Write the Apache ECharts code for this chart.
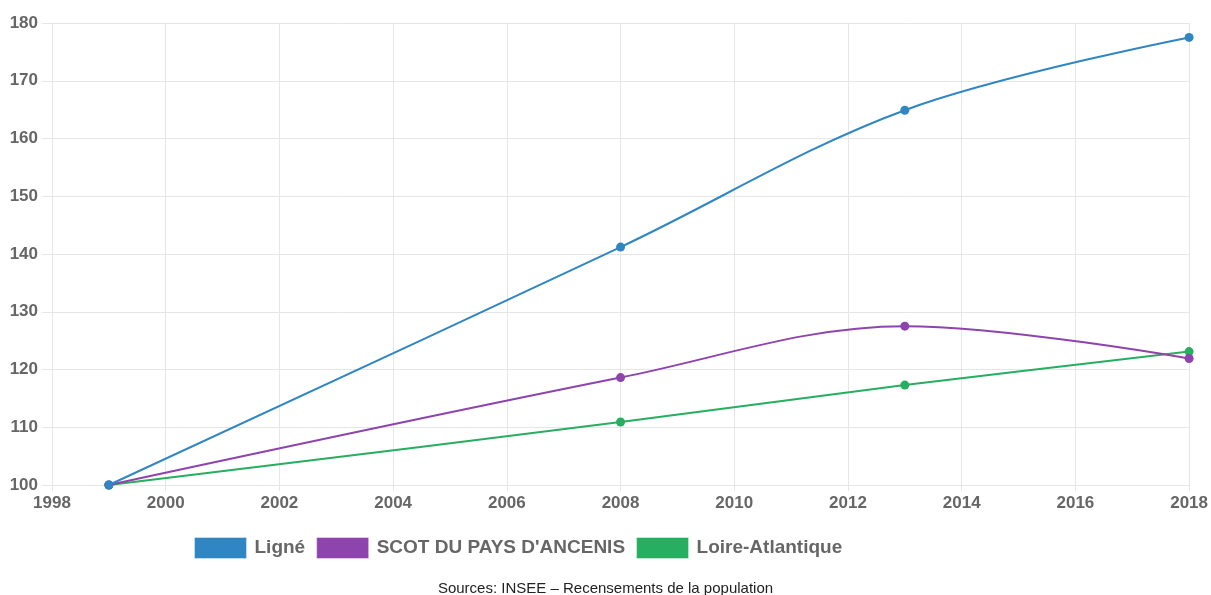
<!DOCTYPE html>
<html>
<head>
<meta charset="utf-8">
<script src="https://cdn.jsdelivr.net/npm/echarts@6/dist/echarts.min.js"></script>
<style>
html,body{margin:0;padding:0;background:#fff;}
#chart{width:1211px;height:595px;}
</style>
</head>
<body>
<div id="chart"></div>
<script>
const years = [1999, 2008, 2013, 2018];
const seriesNames = ["Ligné", "SCOT DU PAYS D'ANCENIS", "Loire-Atlantique"];
const ligne = [100, 141.2, 164.9, 177.5];
const scot = [100, 118.6, 127.5, 121.9];
const loire = [100, 110.9, 117.3, 123.1];
const colors = ["#2f86c3", "#8e44ad", "#27ae60"];
const sourceText = "Sources: INSEE – Recensements de la population";

const values = [ligne, scot, loire];
const chart = echarts.init(document.getElementById('chart'));
const gridColor = '#e6e6e6';
const font = '"Liberation Sans", Arial, sans-serif';

chart.setOption({
  animation: false,
  backgroundColor: '#fff',
  grid: {left: 52, right: 20, top: 23, bottom: 110, containLabel: false},
  legend: {
    left: 189, top: 532,
    itemWidth: 52, itemHeight: 21, itemGap: 11,
    icon: 'rect',
    data: seriesNames,
    itemStyle: {borderColor: 'rgba(255,255,255,0.4)', borderWidth: 1},
    textStyle: {fontFamily: font, fontWeight: 'bold', fontSize: 19, color: '#666', padding: [0,0,0,3]}
  },
  xAxis: {
    type: 'value', min: 1998, max: 2018, interval: 2,
    axisLine: {show: true, lineStyle: {color: gridColor}},
    axisTick: {show: true, length: 6, lineStyle: {color: gridColor}},
    splitLine: {show: true, lineStyle: {color: gridColor}},
    axisLabel: {margin: 10, color: '#666', fontFamily: font, fontWeight: 'bold', fontSize: 17, formatter: v => String(v)}
  },
  yAxis: {
    type: 'value', min: 100, max: 180, interval: 10,
    axisLine: {show: true, lineStyle: {color: gridColor}},
    axisTick: {show: true, length: 10, lineStyle: {color: gridColor}},
    splitLine: {show: true, lineStyle: {color: gridColor}},
    axisLabel: {margin: 14, color: '#666', fontFamily: font, fontWeight: 'bold', fontSize: 17}
  },
  series: seriesNames.map((n, i) => ({
    name: n, type: 'line', smooth: 0.35,
    data: years.map((y, j) => [y, values[i][j]]),
    symbol: 'circle', symbolSize: 9,
    lineStyle: {width: 2, color: colors[i]},
    itemStyle: {color: colors[i]},
    z: 3 - i
  })),
  graphic: [{
    type: 'text', left: 'center', top: 581,
    style: {text: sourceText, fontFamily: font, fontSize: 15, fill: '#222'}
  }]
});
</script>
</body>
</html>
